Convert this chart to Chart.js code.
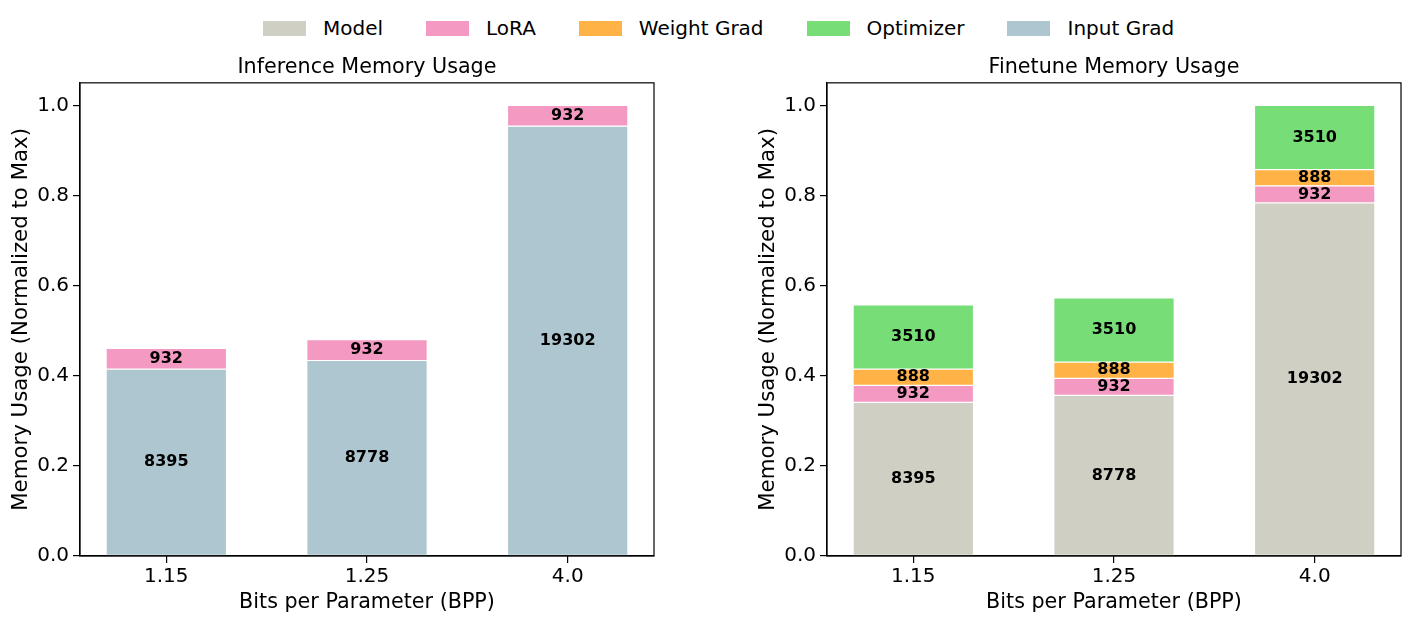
<!DOCTYPE html>
<html>
<head>
<meta charset="utf-8">
<script src="https://cdn.jsdelivr.net/npm/chart.js@4.4.0/dist/chart.umd.min.js"></script>
<style>
  body { margin: 0; background: #fff; width: 1412px; height: 624px; overflow: hidden; position: relative; font-family: "DejaVu Sans"; }
  #legend { position: absolute; top: 16px; left: 263px; display: flex; align-items: center; font-size: 20px; line-height: 24px; color: #000; }
  .item { display: flex; align-items: center; margin-right: 43px; }
  .sw { width: 43px; height: 15px; margin-right: 17px; }
  canvas { position: absolute; top: 40px; }
</style>
</head>
<body>
<div id="legend"></div>
<canvas id="inferChart" width="700" height="584" style="left:0px"></canvas>
<canvas id="tuneChart" width="712" height="584" style="left:700px"></canvas>
<script>
const bppLabels = ["1.15", "1.25", "4.0"];
const yTicks = [0, 0.2, 0.4, 0.6, 0.8, 1.0];

// inference bars (bottom to top)
const inferInputGrad = [8395, 8778, 19302];
const inferLora = [932, 932, 932];

// finetune bars (bottom to top)
const tuneModel = [8395, 8778, 19302];
const tuneLora = [932, 932, 932];
const tuneWeightGrad = [888, 888, 888];
const tuneOptimizer = [3510, 3510, 3510];

const legendNames = ["Model", "LoRA", "Weight Grad", "Optimizer", "Input Grad"];
const legendColors = ["#CFCFC4", "#F49AC2", "#FFB347", "#77DD77", "#AEC6CF"];

const colorOf = name => legendColors[legendNames.indexOf(name)];

// legend row
const legend = document.getElementById("legend");
legendNames.forEach((name, i) => {
  const item = document.createElement("div");
  item.className = "item";
  const sw = document.createElement("div");
  sw.className = "sw";
  sw.style.background = legendColors[i];
  const label = document.createElement("span");
  label.textContent = name;
  item.appendChild(sw);
  item.appendChild(label);
  legend.appendChild(item);
});

const segmentLabels = {
  id: "segmentLabels",
  afterDatasetsDraw(chart) {
    const ctx = chart.ctx;
    ctx.save();
    ctx.font = 'bold 16px "DejaVu Sans"';
    ctx.fillStyle = "#000";
    ctx.textAlign = "center";
    ctx.textBaseline = "middle";
    chart.data.datasets.forEach((ds, di) => {
      chart.getDatasetMeta(di).data.forEach((bar, i) => {
        ctx.fillText(String(ds.raw[i]), bar.x, (bar.y + bar.base) / 2);
      });
    });
    ctx.restore();
  }
};

const frame = {
  id: "frame",
  afterDraw(chart) {
    const a = chart.chartArea;
    const ctx = chart.ctx;
    ctx.save();
    ctx.strokeStyle = "#000";
    ctx.lineWidth = 1.2;
    ctx.strokeRect(a.left, a.top, a.right - a.left, a.bottom - a.top);
    ctx.restore();
  }
};

function makeChart(id, title, series, padLeft, padRight) {
  const totals = bppLabels.map((_, i) => series.reduce((s, d) => s + d.values[i], 0));
  const maxTotal = Math.max(...totals);

  const datasets = series.map(s => ({
    label: s.name,
    raw: s.values,
    data: s.values.map((v, i) => ({ x: i, y: v / maxTotal })),
    backgroundColor: colorOf(s.name),
    borderColor: "rgba(255,255,255,0.8)",
    borderWidth: 0.6,
    borderSkipped: false,
    categoryPercentage: 1,
    barPercentage: 0.6,
  }));

  new Chart(document.getElementById(id), {
    type: "bar",
    data: { datasets: datasets },
    plugins: [segmentLabels, frame],
    options: {
      responsive: false,
      animation: false,
      layout: { padding: { left: padLeft, right: padRight, top: 0, bottom: 0 } },
      plugins: {
        legend: { display: false },
        tooltip: { enabled: false },
        title: {
          display: true,
          text: title,
          fullSize: false,
          color: "#000",
          font: { family: "DejaVu Sans", size: 20.7, weight: "normal" },
          padding: { top: 15, bottom: 3 },
        },
      },
      scales: {
        x: {
          type: "linear",
          stacked: true,
          offset: false,
          min: -0.43,
          max: 2.43,
          afterBuildTicks: s => { s.ticks = bppLabels.map((_, i) => ({ value: i })); },
          afterFit: s => { s.height = 68; },
          ticks: {
            callback: v => bppLabels[v],
            color: "#000",
            font: { family: "DejaVu Sans", size: 20 },
            padding: 2,
            maxRotation: 0,
            autoSkip: false,
          },
          grid: { display: true, offset: false, drawOnChartArea: false, drawTicks: true, tickLength: 7, color: "#000", lineWidth: 1.2 },
          border: { display: true, color: "#000", width: 1.2 },
          title: {
            display: true,
            text: "Bits per Parameter (BPP)",
            color: "#000",
            font: { family: "DejaVu Sans", size: 20.7 },
            padding: { top: 0, bottom: 9 },
          },
        },
        y: {
          stacked: true,
          min: 0,
          max: 1.05,
          afterBuildTicks: s => { s.ticks = yTicks.map(v => ({ value: v })); },
          afterFit: s => { s.width = 80; },
          ticks: {
            callback: v => v.toFixed(1),
            color: "#000",
            font: { family: "DejaVu Sans", size: 20 },
            padding: 4,
          },
          grid: { display: true, drawOnChartArea: false, drawTicks: true, tickLength: 7, color: "#000", lineWidth: 1.2 },
          border: { display: true, color: "#000", width: 1.2 },
          title: {
            display: true,
            text: "Memory Usage (Normalized to Max)",
            color: "#000",
            font: { family: "DejaVu Sans", size: 21.3 },
            padding: { top: 9, bottom: 0 },
          },
        },
      },
    },
  });
}

makeChart("inferChart", "Inference Memory Usage", [
  { name: "Input Grad", values: inferInputGrad },
  { name: "LoRA", values: inferLora },
], 0, 46);

makeChart("tuneChart", "Finetune Memory Usage", [
  { name: "Model", values: tuneModel },
  { name: "LoRA", values: tuneLora },
  { name: "Weight Grad", values: tuneWeightGrad },
  { name: "Optimizer", values: tuneOptimizer },
], 47, 11);
</script>
</body>
</html>
